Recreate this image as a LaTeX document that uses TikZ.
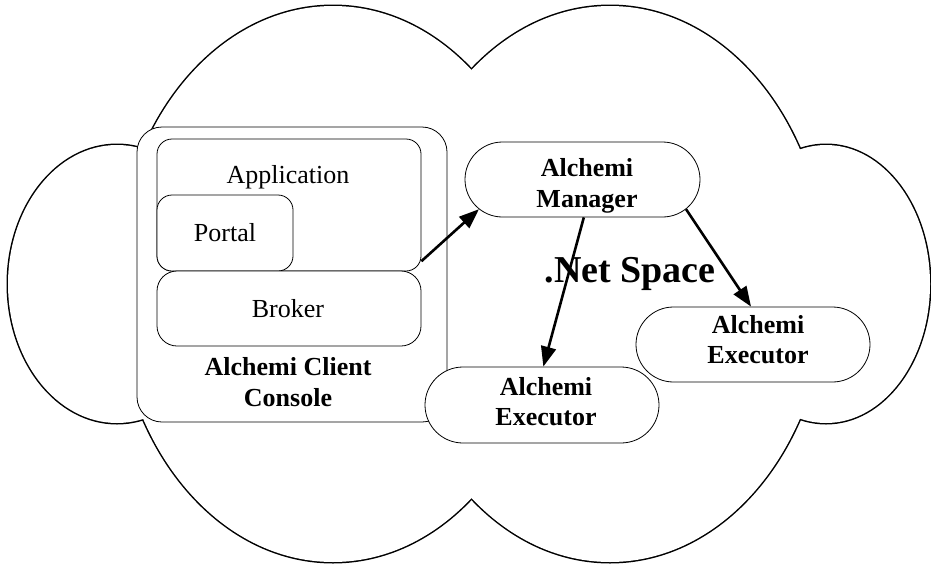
\documentclass[tikz,border=0pt]{standalone}
\usepackage{fontspec}
\setmainfont{Liberation Serif}
\usetikzlibrary{arrows.meta,shapes.misc}
\tikzset{
  boxr/.style={draw, line width=0.8pt, fill=white, rectangle, inner sep=0pt},
  pill/.style={draw, line width=0.8pt, fill=white, rounded rectangle, inner sep=0pt},
  txt/.style={font=\fontsize{26}{30.5}\selectfont, inner sep=0pt},
  btxt/.style={font=\fontsize{26}{30.5}\selectfont\bfseries, align=center, inner sep=0pt},
  arr/.style={line width=2.6pt, -{Triangle[length=20pt,width=15pt]}},
}
\begin{document}
\begin{tikzpicture}[x=1pt,y=-1pt]
\useasboundingbox (0,0) rectangle (931,563);
% cloud outline
\draw[line width=3pt] (117,284) ellipse[x radius=109pt, y radius=139pt];
\draw[line width=3pt] (826,284) ellipse[x radius=104pt, y radius=139pt];
\draw[line width=3pt] (333,284) ellipse[x radius=217pt, y radius=278pt];
\draw[line width=3pt] (610,284) ellipse[x radius=217pt, y radius=278pt];
\fill[white] (117,284) ellipse[x radius=109pt, y radius=139pt];
\fill[white] (826,284) ellipse[x radius=104pt, y radius=139pt];
\fill[white] (333,284) ellipse[x radius=217pt, y radius=278pt];
\fill[white] (610,284) ellipse[x radius=217pt, y radius=278pt];
% client console
\node[boxr, rounded corners=25pt, minimum width=310pt, minimum height=295pt] (console) at (292,274.5) {};
\node[boxr, rounded corners=15pt, minimum width=264pt, minimum height=132pt] (app) at (289,205) {};
\node[boxr, rounded corners=15pt, minimum width=136pt, minimum height=76pt] (portal) at (225,233) {};
\node[boxr, rounded corners=20pt, minimum width=264pt, minimum height=75pt] (broker) at (289,308.5) {};
\node[txt, anchor=base] (apptxt) at (288,183) {Application};
\node[txt, anchor=base] (portaltxt) at (225,241) {Portal};
\node[txt, anchor=base] (brokertxt) at (288,317) {Broker};
\node[btxt] (consoletxt) at (288,382) {Alchemi Client\\Console};
% manager and executors
\node[pill, minimum width=235pt, minimum height=75pt] (mgr) at (582.5,179.5) {};
\node[pill, minimum width=234pt, minimum height=76pt] (ex1) at (542,405) {};
\node[pill, minimum width=234pt, minimum height=75pt] (ex2) at (753,344.5) {};
\node[btxt] (mgrtxt) at (587,186) {Alchemi\\Manager};
\node[btxt] (ex1txt) at (546,401.5) {Alchemi\\Executor};
\node[btxt] (ex2txt) at (758,339.5) {Alchemi\\Executor};
% space label
\node[font=\fontsize{38}{40}\selectfont\bfseries, inner sep=0pt, anchor=base] (space) at (630,282) {.Net Space};
% arrows
\draw[arr] (app.-23) -- (mgr.196.9);
\draw[arr] (mgr.-88) -- (ex1.88);
\draw[arr] (mgr.-16.4) -- (ex2.93);
\end{tikzpicture}
\end{document}
